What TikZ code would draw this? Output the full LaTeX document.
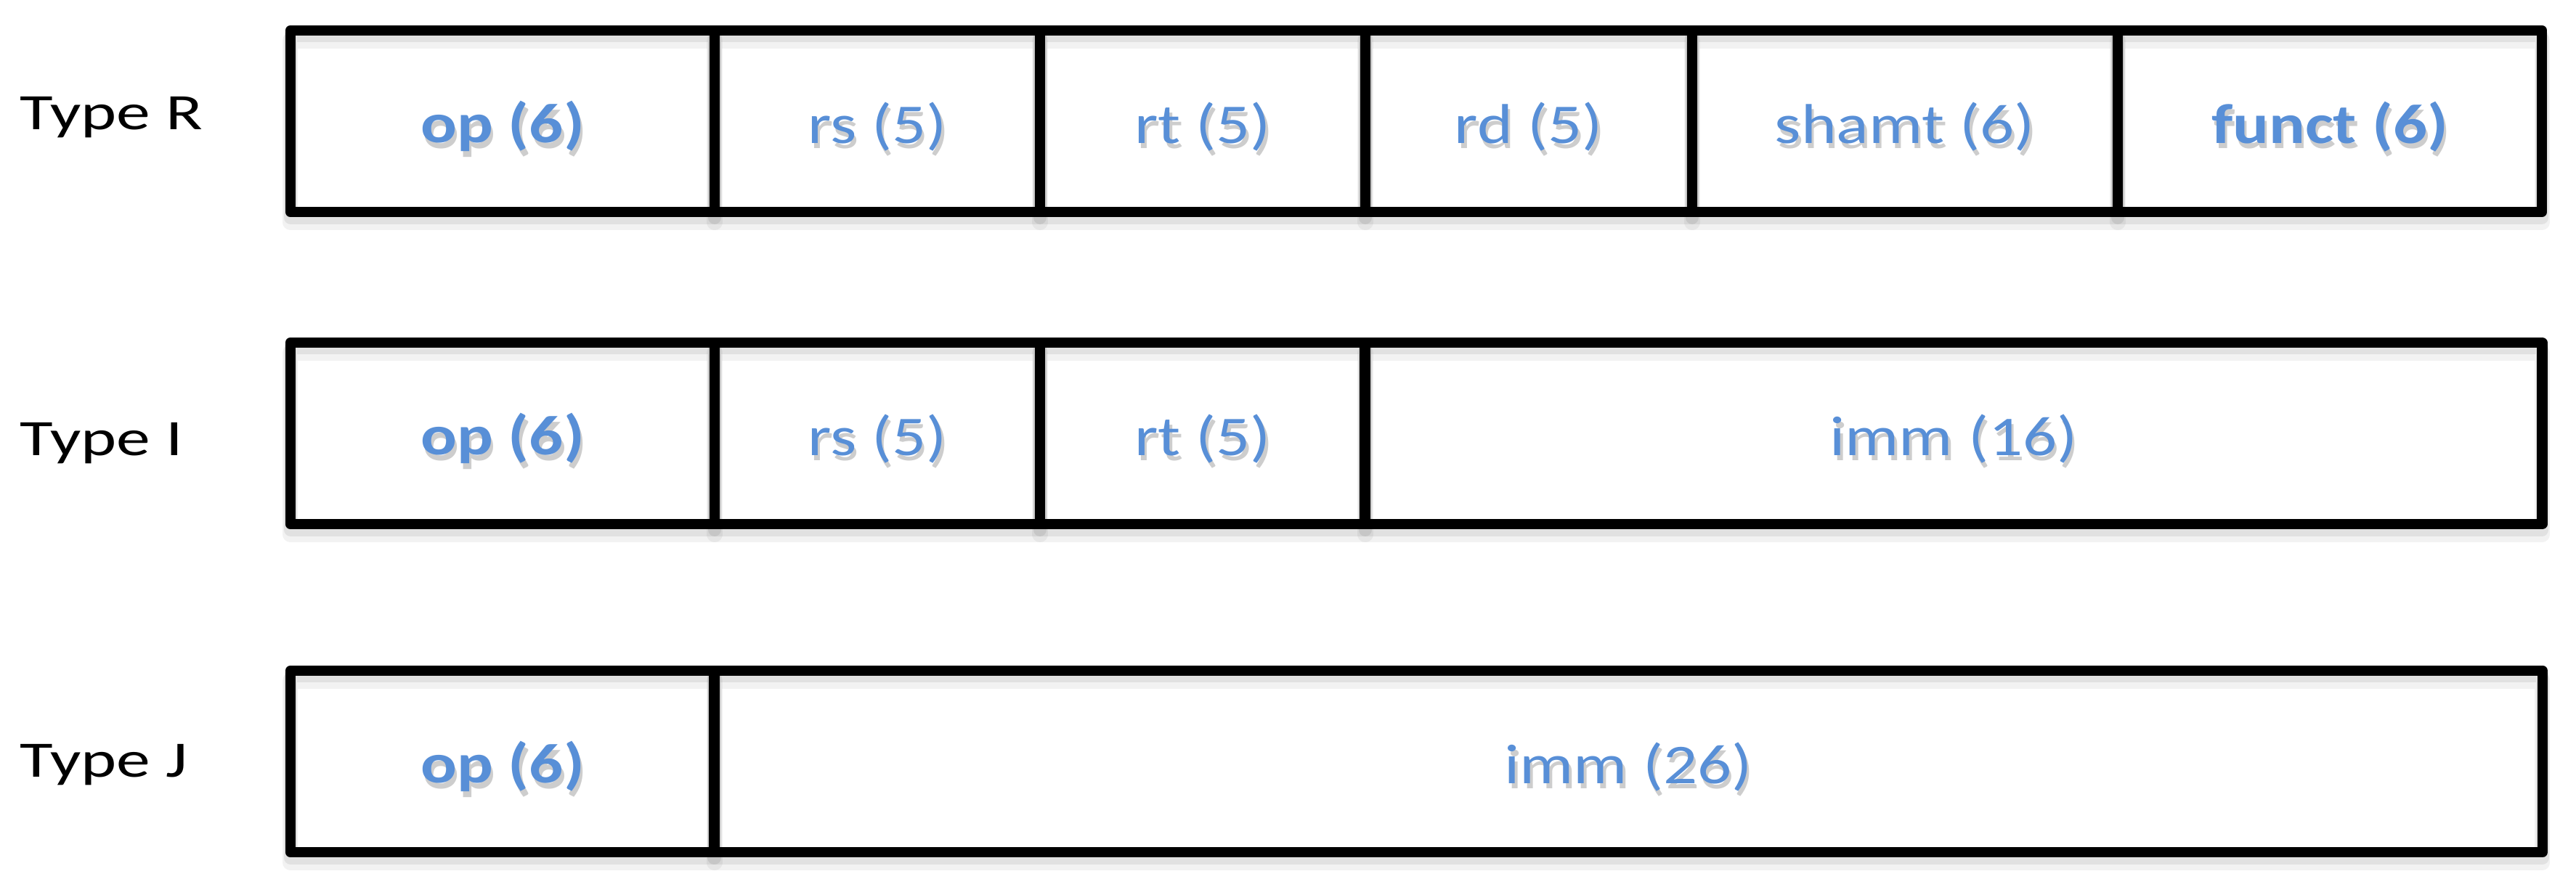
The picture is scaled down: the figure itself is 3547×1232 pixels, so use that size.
\documentclass[tikz,border=0pt]{standalone}
\usepackage{fontspec}
\setmainfont{Carlito}
\newfontfamily\typefont{Carlito}[FakeStretch=1.33]
\newfontfamily\labfont{Carlito}[FakeStretch=1.2]
\definecolor{fieldblue}{RGB}{88,143,215}
\definecolor{shadowgray}{RGB}{205,205,205}
\newcommand\shadowed[1]{\leavevmode\rlap{\kern1.0pt\raisebox{-2.2pt}{\textcolor{shadowgray}{#1}}}#1}
\tikzset{
  cell/.style={draw=black, line width=4.1pt, line join=round, inner sep=0pt, outer sep=0pt,
    minimum height=2.5cm,
    preaction={draw=black, opacity=0.07, line width=5pt, transform canvas={yshift=-2.2pt}},
    preaction={draw=black, opacity=0.05, line width=6pt, transform canvas={yshift=-4pt}}},
  lab/.style={inner sep=0pt, text=fieldblue, yshift=-0.11cm, font=\labfont\fontsize{22}{26}\selectfont},
  boldlab/.style={lab, font=\labfont\bfseries\fontsize{22}{26}\selectfont},
  typelabel/.style={anchor=base west, inner sep=0pt, font=\typefont\fontsize{20}{24}\selectfont, text=black}
}
\begin{document}
\begin{tikzpicture}[x=0.01cm, y=-0.01cm]
\useasboundingbox (0,0) rectangle (3547,1232);
% Type R
\node[cell, minimum width=5.84cm] (rop) at (692,167) {};
\node[cell, minimum width=4.48cm] (rrs) at (1208,167) {};
\node[cell, minimum width=4.48cm] (rrt) at (1656,167) {};
\node[cell, minimum width=4.50cm] (rrd) at (2105,167) {};
\node[cell, minimum width=5.86cm] (rsh) at (2623,167) {};
\node[cell, minimum width=5.84cm] (rfn) at (3208,167) {};
\node[boldlab] (lrop) at (rop.center) {\shadowed{op (6)}};
\node[lab] (lrrs) at (rrs.center) {\shadowed{rs (5)}};
\node[lab] (lrrt) at (rrt.center) {\shadowed{rt (5)}};
\node[lab] (lrrd) at (rrd.center) {\shadowed{rd (5)}};
\node[lab] (lrsh) at (rsh.center) {\shadowed{shamt (6)}};
\node[boldlab] (lrfn) at (rfn.center) {\shadowed{funct (6)}};
\node[typelabel] (tR) at (27,178) {Type R};
% Type I
\node[cell, minimum width=5.84cm] (iop) at (692,597) {};
\node[cell, minimum width=4.48cm] (irs) at (1208,597) {};
\node[cell, minimum width=4.48cm] (irt) at (1656,597) {};
\node[cell, minimum width=16.20cm] (iimm) at (2690,597) {};
\node[boldlab] (liop) at (iop.center) {\shadowed{op (6)}};
\node[lab] (lirs) at (irs.center) {\shadowed{rs (5)}};
\node[lab] (lirt) at (irt.center) {\shadowed{rt (5)}};
\node[lab] (liimm) at (iimm.center) {\shadowed{imm (16)}};
\node[typelabel] (tI) at (27,627) {Type I};
% Type J
\node[cell, minimum width=5.84cm] (jop) at (692,1049) {};
\node[cell, minimum width=25.16cm] (jimm) at (2242,1049) {};
\node[boldlab] (ljop) at (jop.center) {\shadowed{op (6)}};
\node[lab] (ljimm) at (jimm.center) {\shadowed{imm (26)}};
\node[typelabel] (tJ) at (27,1070) {Type J};
\end{tikzpicture}
\end{document}
